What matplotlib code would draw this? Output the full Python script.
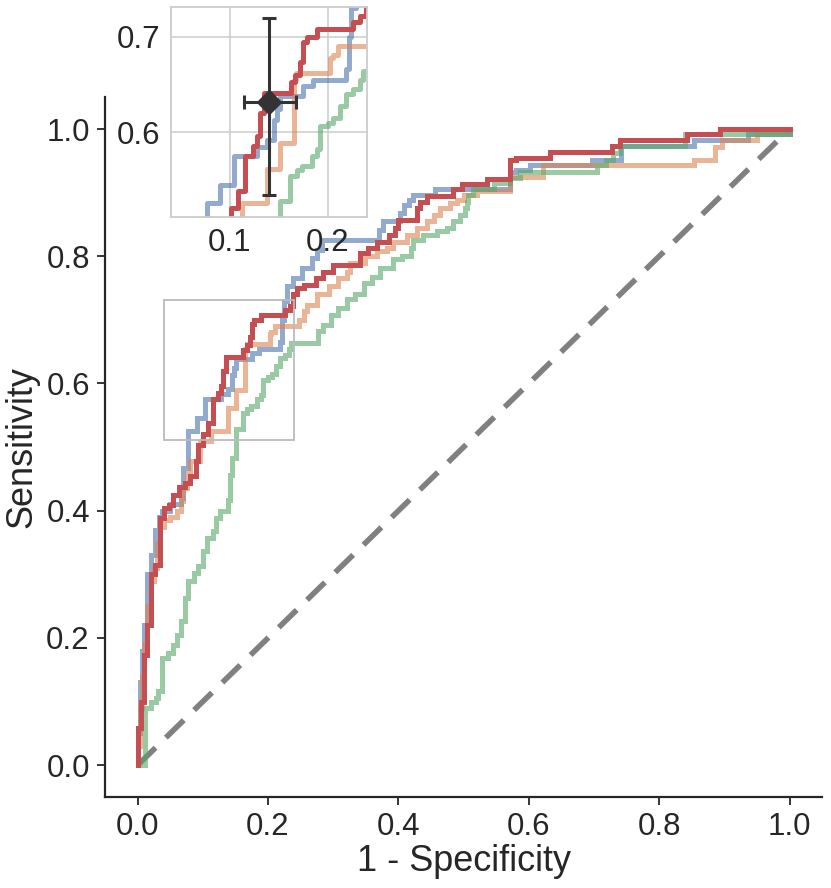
import matplotlib
matplotlib.use("Agg")
import matplotlib.pyplot as plt
from matplotlib.patches import Rectangle

# ROC staircase corners: (fpr at jump, tpr after jump)
blue_fpr = [0, 0.003, 0.006, 0.01, 0.015, 0.02, 0.027, 0.033, 0.038, 0.05, 0.066, 0.07,
            0.077, 0.0905, 0.104, 0.128, 0.138, 0.1447, 0.148, 0.1515, 0.175, 0.1854, 0.219,
            0.222, 0.224, 0.229, 0.239, 0.252, 0.268, 0.275, 0.283, 0.37, 0.377, 0.403, 0.408,
            0.416, 0.423, 0.456, 0.571, 0.58, 0.602, 0.697, 0.742, 0.854, 0.936, 1.0]
blue_tpr = [0.05, 0.13, 0.18, 0.22, 0.30, 0.33, 0.37, 0.39, 0.40, 0.41, 0.42, 0.467,
            0.526, 0.545, 0.575, 0.584, 0.592, 0.613, 0.624, 0.638, 0.648, 0.654, 0.666,
            0.70, 0.73, 0.753, 0.766, 0.781, 0.797, 0.81, 0.826, 0.842, 0.855, 0.868, 0.881,
            0.889, 0.897, 0.905, 0.933, 0.936, 0.943, 0.951, 0.973, 0.982, 0.992, 1.0]

orange_fpr = [0, 0.003, 0.006, 0.01, 0.015, 0.02, 0.025, 0.03, 0.035, 0.04, 0.05, 0.06,
              0.066, 0.07, 0.076, 0.081, 0.096, 0.1126, 0.138, 0.1515, 0.165, 0.168, 0.2023,
              0.205, 0.21, 0.247, 0.255, 0.26, 0.275, 0.293, 0.308, 0.321, 0.325, 0.349, 0.367,
              0.382, 0.392, 0.413, 0.428, 0.444, 0.454, 0.464, 0.479, 0.49, 0.5, 0.52, 0.571,
              0.622, 0.854, 0.885, 0.897, 0.95, 1.0]
orange_tpr = [0.03, 0.09, 0.14, 0.19, 0.25, 0.29, 0.31, 0.35, 0.375, 0.385, 0.39, 0.40,
              0.415, 0.435, 0.46, 0.478, 0.509, 0.526, 0.561, 0.589, 0.655, 0.662, 0.678,
              0.681, 0.690, 0.70, 0.714, 0.724, 0.74, 0.753, 0.766, 0.776, 0.789, 0.80, 0.808,
              0.813, 0.823, 0.834, 0.844, 0.855, 0.865, 0.876, 0.884, 0.889, 0.897, 0.902, 0.925,
              0.944, 0.951, 0.971, 0.982, 0.995, 1.0]

green_fpr = [0, 0.012, 0.02, 0.028, 0.032, 0.038, 0.046, 0.055, 0.061, 0.066, 0.073, 0.078,
             0.086, 0.092, 0.1, 0.107, 0.115, 0.12, 0.127, 0.138, 0.142, 0.145, 0.151, 0.1617,
             0.1685, 0.1736, 0.1837, 0.189, 0.192, 0.2006, 0.2057, 0.2125, 0.219, 0.226, 0.2328,
             0.236, 0.276, 0.285, 0.296, 0.308, 0.321, 0.334, 0.347, 0.359, 0.372, 0.392, 0.405,
             0.42, 0.423, 0.438, 0.459, 0.474, 0.484, 0.495, 0.502, 0.505, 0.507, 0.515, 0.546,
             0.571, 0.587, 0.704, 0.719, 0.729, 0.74, 0.839, 1.0]
green_tpr = [0.0, 0.09, 0.10, 0.105, 0.116, 0.168, 0.176, 0.189, 0.204, 0.226, 0.263, 0.289,
             0.302, 0.313, 0.336, 0.357, 0.368, 0.388, 0.40, 0.417, 0.456, 0.483, 0.528, 0.554,
             0.56, 0.564, 0.575, 0.582, 0.606, 0.61, 0.615, 0.627, 0.64, 0.645, 0.655,
             0.664, 0.682, 0.692, 0.708, 0.719, 0.733, 0.74, 0.758, 0.768, 0.781, 0.795, 0.80,
             0.813, 0.826, 0.834, 0.84, 0.844, 0.855, 0.865, 0.876, 0.886, 0.897, 0.905, 0.915,
             0.923, 0.933, 0.944, 0.951, 0.962, 0.973, 0.992, 1.0]

red_fpr = [0, 0.005, 0.009, 0.015, 0.02, 0.027, 0.035, 0.04, 0.048, 0.055, 0.063, 0.073,
           0.081, 0.089, 0.093, 0.101, 0.108, 0.116, 0.124, 0.128, 0.131, 0.135, 0.162, 0.167,
           0.172, 0.175, 0.179, 0.189, 0.226, 0.233, 0.239, 0.244, 0.255, 0.273, 0.285, 0.3,
           0.341, 0.354, 0.367, 0.385, 0.395, 0.4, 0.428, 0.433, 0.444, 0.484, 0.497, 0.536,
           0.571, 0.58, 0.632, 0.727, 0.74, 0.842, 0.893, 1.0]
red_tpr = [0.058, 0.10, 0.173, 0.22, 0.30, 0.315, 0.388, 0.404, 0.409, 0.425, 0.438, 0.443,
           0.454, 0.478, 0.503, 0.52, 0.538, 0.575, 0.585, 0.596, 0.620, 0.641, 0.652, 0.660,
           0.673, 0.694, 0.70, 0.708, 0.715, 0.722, 0.74, 0.75, 0.755, 0.766, 0.776, 0.786,
           0.805, 0.813, 0.823, 0.834, 0.844, 0.857, 0.876, 0.886, 0.894, 0.905, 0.913, 0.921,
           0.951, 0.954, 0.964, 0.973, 0.982, 0.992, 1.0, 1.0]

# operating point with error bars
pt_x = [0.1403]
pt_y = [0.631]
pt_xerr = [[0.026], [0.027]]
pt_yerr = [[0.097], [0.088]]

main_ticks = [0.0, 0.2, 0.4, 0.6, 0.8, 1.0]
inset_xticks = [0.1, 0.2]
inset_yticks = [0.6, 0.7]
zoom_x = (0.040, 0.240)
zoom_y = (0.511, 0.731)

TXT = "#262626"
plt.rcParams['font.family'] = ['Liberation Sans', 'DejaVu Sans']
plt.rcParams['text.color'] = TXT
plt.rcParams['axes.labelcolor'] = TXT
plt.rcParams['xtick.color'] = TXT
plt.rcParams['ytick.color'] = TXT

curves = [
    (blue_fpr, blue_tpr, "#4c72b0", 0.6),
    (orange_fpr, orange_tpr, "#dd8452", 0.6),
    (green_fpr, green_tpr, "#55a868", 0.6),
    (red_fpr, red_tpr, "#c44e52", 1.0),
]

fig = plt.figure(figsize=(8.31, 8.88), dpi=100)
ax = fig.add_axes([0.1264, 0.1025, 0.863, 0.788])

ax.plot([0, 1], [0, 1], color="#808080", lw=4, ls=(0, (4.5, 2.6)), zorder=1)
for fx, ty, c, a in curves:
    ax.plot([0] + fx, [0] + ty, drawstyle="steps-post", color=c, alpha=a, lw=3.6,
            solid_joinstyle="miter", zorder=2)

ax.add_patch(Rectangle((zoom_x[0], zoom_y[0]), zoom_x[1] - zoom_x[0], zoom_y[1] - zoom_y[0],
                       fill=False, edgecolor="#bbbbbb", lw=1.3, zorder=3))

ax.set_xlim(-0.05, 1.05)
ax.set_ylim(-0.05, 1.05)
ax.set_xticks(main_ticks)
ax.set_yticks(main_ticks)
ax.set_xticklabels([f"{t:.1f}" for t in main_ticks])
ax.set_yticklabels([f"{t:.1f}" for t in main_ticks])
ax.tick_params(axis="both", labelsize=22.5, length=6, width=1.3, direction="out", pad=5)
for s in ["top", "right"]:
    ax.spines[s].set_visible(False)
for s in ["left", "bottom"]:
    ax.spines[s].set_linewidth(1.6)
    ax.spines[s].set_color(TXT)
ax.set_xlabel("1 - Specificity", fontsize=26, labelpad=1)
ax.set_ylabel("Sensitivity", fontsize=26, labelpad=5)

# inset
axi = fig.add_axes([171 / 831, 1 - 217 / 888, 196 / 831, 210 / 888])
for fx, ty, c, a in curves:
    axi.plot([0] + fx, [0] + ty, drawstyle="steps-post", color=c, alpha=a, lw=3.6, zorder=2)
axi.errorbar(pt_x, pt_y, xerr=pt_xerr, yerr=pt_yerr, fmt="D", color="#333333",
             markersize=12, elinewidth=2.2, capsize=5, capthick=2.2, zorder=5)
axi.set_xlim(*zoom_x)
axi.set_ylim(*zoom_y)
axi.set_xticks(inset_xticks)
axi.set_yticks(inset_yticks)
axi.set_xticklabels([f"{t:.1f}" for t in inset_xticks])
axi.set_yticklabels([f"{t:.1f}" for t in inset_yticks])
axi.grid(True, color="#cccccc", lw=1.1, zorder=0)
axi.set_axisbelow(True)
axi.tick_params(axis="both", labelsize=22.5, length=0, pad=8)
for s in axi.spines.values():
    s.set_color("#cccccc")
    s.set_linewidth(1.3)

fig.savefig("out.png", dpi=100)
